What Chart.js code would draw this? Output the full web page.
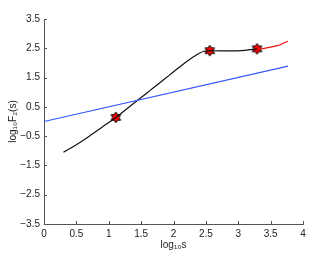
<!DOCTYPE html>
<html><head><meta charset="utf-8">
<script src="https://cdn.jsdelivr.net/npm/chart.js@4/dist/chart.umd.min.js"></script>
<style>html,body{margin:0;padding:0;background:#fff}</style>
</head><body>
<canvas id="c" width="336" height="253"></canvas>
<script>
// Data
const blackX = [0.30,0.50,0.70,0.90,1.11,1.30,1.50,1.65,1.80,1.95,2.10,2.20,2.31,2.40,2.46,2.56,2.70,2.90,3.10,3.29];
const blackY = [-1.05,-0.79,-0.50,-0.19,0.14,0.47,0.82,1.08,1.34,1.61,1.87,2.04,2.21,2.33,2.39,2.42,2.41,2.41,2.43,2.48];
const redX = [3.29,3.40,3.50,3.58,3.65,3.70,3.77];
const redY = [2.48,2.50,2.54,2.58,2.62,2.68,2.74];
const blueX = [0,3.77];
const blueY = [0,1.89];
const starX = [1.11,2.56,3.29];
const starY = [0.14,2.42,2.48];
const xTicks = [0,0.5,1,1.5,2,2.5,3,3.5,4];
const yTicks = [-3.5,-2.5,-1.5,-0.5,0.5,1.5,2.5,3.5];

const pts = (xs, ys) => xs.map((x, i) => ({x, y: ys[i]}));

// hexagram marker
const star = document.createElement('canvas');
star.width = 13; star.height = 13;
(function(){
  const g = star.getContext('2d'); const c = 6.5, r = 5.5;
  g.beginPath();
  for (let k = 0; k < 12; k++) {
    const a = -Math.PI/2 + k*Math.PI/6;
    const rr = (k % 2 === 0) ? r : r*0.58;
    const px = c + rr*Math.cos(a), py = c + rr*Math.sin(a);
    k ? g.lineTo(px, py) : g.moveTo(px, py);
  }
  g.closePath();
  g.fillStyle = '#ff0000'; g.fill();
  g.strokeStyle = '#000'; g.lineWidth = 1; g.stroke();
})();

const tickPlugin = {
  id: 'inticks',
  afterDatasetsDraw(chart) {
    const ctx = chart.ctx, xs = chart.scales.x, ys = chart.scales.y;
    ctx.save(); ctx.strokeStyle = '#555'; ctx.lineWidth = 1;
    ctx.beginPath();
    xs.ticks.forEach(t => { const p = Math.round(xs.getPixelForValue(t.value)) + 0.5;
      ctx.moveTo(p, ys.bottom); ctx.lineTo(p, ys.bottom - 3); });
    ys.ticks.forEach(t => { const p = Math.round(ys.getPixelForValue(t.value)) + 0.5;
      ctx.moveTo(xs.left, p); ctx.lineTo(xs.left + 3, p); });
    ctx.stroke(); ctx.restore();
  }
};

const fmt = v => { const s = String(v); return v < 0 ? '\u2212' + s.slice(1) : s; };
const font = {family: 'Liberation Sans, Arial, sans-serif', size: 10};

new Chart(document.getElementById('c'), {
  type: 'scatter',
  data: { datasets: [
    {data: pts(blueX, blueY), showLine: true, borderColor: '#3355ff', borderWidth: 1.2, pointRadius: 0},
    {data: pts(blackX, blackY), showLine: true, borderColor: '#111', borderWidth: 1.2, pointRadius: 0, cubicInterpolationMode: 'monotone'},
    {data: pts(redX, redY), showLine: true, borderColor: '#ee1111', borderWidth: 1.2, pointRadius: 0, tension: 0.3},
    {data: pts(starX, starY), showLine: false, pointStyle: star, pointRadius: 6}
  ]},
  options: {
    responsive: false, animation: false,
    layout: {padding: {top: 19, right: 33, left: 0, bottom: 0}},
    plugins: {legend: {display: false}, tooltip: {enabled: false}},
    scales: {
      x: {
        type: 'linear', min: 0, max: 4,
        afterBuildTicks: s => { s.ticks = xTicks.map(v => ({value: v})); },
        afterFit: s => { s.height = 29; },
        grid: {display: false, drawTicks: false},
        border: {display: true, color: '#555', width: 1},
        ticks: {color: '#222', font, padding: 4, maxRotation: 0, autoSkip: false, callback: v => fmt(v)},
        title: {display: true, text: 'log\u2081\u2080s', color: '#222', font, padding: {top: 0, bottom: 2}}
      },
      y: {
        type: 'linear', min: -3.5, max: 3.5,
        afterBuildTicks: s => { s.ticks = yTicks.map(v => ({value: v})); },
        afterFit: s => { s.width = 44; },
        grid: {display: false, drawTicks: false},
        border: {display: true, color: '#555', width: 1},
        ticks: {color: '#222', font, padding: 4, autoSkip: false, callback: v => fmt(v)},
        title: {display: true, text: 'log\u2081\u2080F\u2082(s)', color: '#222', font, padding: {top: 7, bottom: 0}}
      }
    }
  },
  plugins: [tickPlugin]
});
</script>
</body></html>
